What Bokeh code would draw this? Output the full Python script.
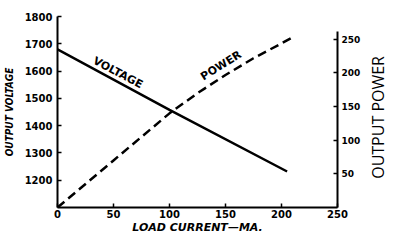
from bokeh.plotting import figure
from bokeh.models import Range1d, LinearAxis, FixedTicker, Div
from bokeh.layouts import row
from bokeh.core.properties import value
from bokeh.embed import file_html
from bokeh.resources import INLINE

# Data
current_v = [0, 100, 205]
voltage = [1680, 1458, 1232]

current_p = [0, 50, 100, 125, 150, 175, 200, 212]
power = [0, 70, 140, 170, 197, 222, 244, 255]

x_ticks = [0, 50, 100, 150, 200, 250]
v_ticks = [1200, 1300, 1400, 1500, 1600, 1700, 1800]
p_ticks = [50, 100, 150, 200, 250]

FONT = "DejaVu Sans"

p = figure(width=363, height=236, output_backend="svg", toolbar_location=None,
           x_range=Range1d(0, 250), y_range=Range1d(1100, 1800),
           min_border_left=56, min_border_right=0, min_border_top=16, min_border_bottom=0)
p.outline_line_color = None
p.xgrid.visible = False
p.ygrid.visible = False
p.background_fill_color = "white"

p.extra_y_ranges = {"power": Range1d(0, 284)}

def style_axis(ax, size):
    ax.axis_line_width = 2
    ax.axis_line_color = "black"
    ax.major_tick_line_width = 1.5
    ax.major_tick_in = 4
    ax.major_tick_out = 0
    ax.minor_tick_line_color = None
    ax.major_label_text_font = FONT
    ax.major_label_text_font_style = "bold"
    ax.major_label_text_font_size = size
    ax.major_label_text_color = "black"
    ax.axis_label_text_color = "black"

xa = p.xaxis[0]
xa.ticker = FixedTicker(ticks=x_ticks)
style_axis(xa, "10px")
xa.major_label_standoff = 2
xa.axis_label = "LOAD CURRENT\u2014MA."
xa.axis_label_text_font = FONT
xa.axis_label_text_font_style = "bold italic"
xa.axis_label_text_font_size = "11px"
xa.axis_label_standoff = 0

ya = p.yaxis[0]
ya.ticker = FixedTicker(ticks=v_ticks)
style_axis(ya, "10px")
ya.major_label_standoff = 5
ya.axis_label = "OUTPUT VOLTAGE"
ya.axis_label_text_font = "DejaVu Sans Condensed"
ya.axis_label_text_font_style = "bold italic"
ya.axis_label_text_font_size = "10px"
ya.axis_label_standoff = 7

ra = LinearAxis(y_range_name="power", ticker=FixedTicker(ticks=p_ticks), bounds=(0, 262))
style_axis(ra, "9px")
ra.major_label_standoff = 4
p.add_layout(ra, "right")

# Lines
p.line(current_v, voltage, line_color="black", line_width=2.5)
p.line(current_p, power, y_range_name="power", line_color="black", line_width=2.5,
       line_dash="9 5")

# Line labels
p.text(x=[54], y=[1594], text=["VOLTAGE"], angle=[-28], angle_units="deg",
       text_font=value(FONT), text_font_style="bold", text_font_size="11px",
       text_align="center", text_baseline="middle", text_color="black")
p.text(x=[146], y=[211], text=["POWER"], angle=[32], angle_units="deg",
       y_range_name="power",
       text_font=value(FONT), text_font_style="bold", text_font_size="11px",
       text_align="center", text_baseline="middle", text_color="black")

# Right-hand title, reading bottom to top
title_html = (
    '<div style="height:224px;width:20px;display:flex;align-items:center;'
    'justify-content:center;">'
    '<span style="writing-mode:vertical-rl;transform:rotate(180deg);'
    "font-family:'Open Sans';font-size:16px;color:black;white-space:nowrap;"
    'line-height:1;">OUTPUT POWER</span></div>'
)
right_title = Div(text=title_html, width=20, height=236)

layout = row(p, right_title, spacing=0)

open("out.html", "w").write(file_html(layout, INLINE))
